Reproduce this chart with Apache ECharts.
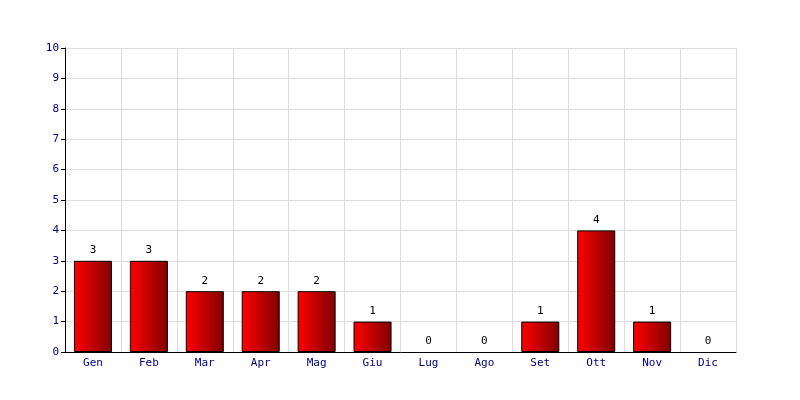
<!DOCTYPE html>
<html><head><meta charset="utf-8">
<script src="https://cdn.jsdelivr.net/npm/echarts@6/dist/echarts.min.js"></script>
<style>html,body{margin:0;padding:0;background:#fff}#c{width:800px;height:400px}</style>
</head><body><div id="c"></div>
<script>
const categories = ['Gen','Feb','Mar','Apr','Mag','Giu','Lug','Ago','Set','Ott','Nov','Dic'];
const values = [3,3,2,2,2,1,0,0,1,4,1,0];
const yTicks = {min:0, max:10, interval:1};
const font = 'DejaVu Sans Mono';
const chart = echarts.init(document.getElementById('c'), null, {renderer:'canvas'});
chart.setOption({
  animation:false,
  grid:{left:65, right:64, top:48, bottom:48},
  xAxis:{type:'category', data:categories,
    axisLine:{lineStyle:{color:'#000', width:1}},
    axisTick:{show:false},
    axisLabel:{color:'#000080', fontFamily:font, fontSize:11, margin:6},
    splitLine:{show:true, lineStyle:{color:'#dddddd'}}},
  yAxis:{type:'value', min:yTicks.min, max:yTicks.max, interval:yTicks.interval,
    axisLine:{show:true, lineStyle:{color:'#000', width:1}},
    axisTick:{show:true, length:4, lineStyle:{color:'#000'}},
    axisLabel:{color:'#000080', fontFamily:font, fontSize:11, margin:6},
    splitLine:{show:true, lineStyle:{color:'#dddddd'}}},
  series:[{type:'bar', barWidth:'68%',
    data: values.map(v => v === 0 ? {value:v, itemStyle:{borderWidth:0}} : v),
    itemStyle:{borderColor:'#000', borderWidth:1,
      color:new echarts.graphic.LinearGradient(0,0,1,0,[{offset:0,color:'#ff0000'},{offset:1,color:'#800000'}])},
    label:{show:true, position:'top', color:'#000', fontFamily:font, fontSize:11, distance:5}
  }]
});
</script></body></html>
